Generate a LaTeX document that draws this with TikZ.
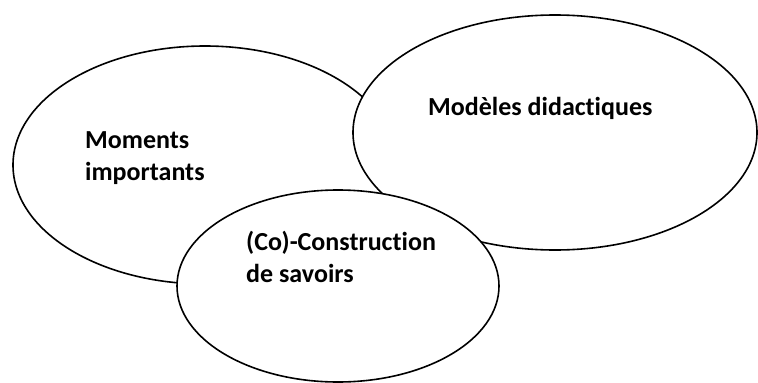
\documentclass[tikz,border=0pt]{standalone}
\usepackage{fontspec}
\setmainfont[Ligatures={NoCommon}]{Carlito}
\usetikzlibrary{shapes.geometric}
\tikzset{
  bubble/.style={ellipse, draw=black, line width=1.6pt, fill=white, inner sep=0pt},
  label text/.style={anchor=base west, align=left, inner sep=0pt,
    font=\fontsize{26}{31.5}\selectfont\bfseries}
}
\begin{document}
\begin{tikzpicture}[x=1pt,y=-1pt]
  \useasboundingbox (0,0) rectangle (758,383);
  % three overlapping bubbles, later ones covering earlier ones
  \node[bubble, minimum width=384pt, minimum height=238pt] (moments) at (205,165) {};
  \node[bubble, minimum width=404pt, minimum height=235pt] (modeles) at (555,132.5) {};
  \node[bubble, minimum width=322pt, minimum height=192pt] (savoirs) at (338,286) {};
  % labels (anchored on the baseline of their last line)
  \node[label text] (tmoments) at (85,180) {Moments\\importants};
  \node[label text] (tmodeles) at (428,115) {Modèles didactiques};
  \node[label text] (tsavoirs) at (246,282) {(Co)-Construction\\de savoirs};
\end{tikzpicture}
\end{document}
